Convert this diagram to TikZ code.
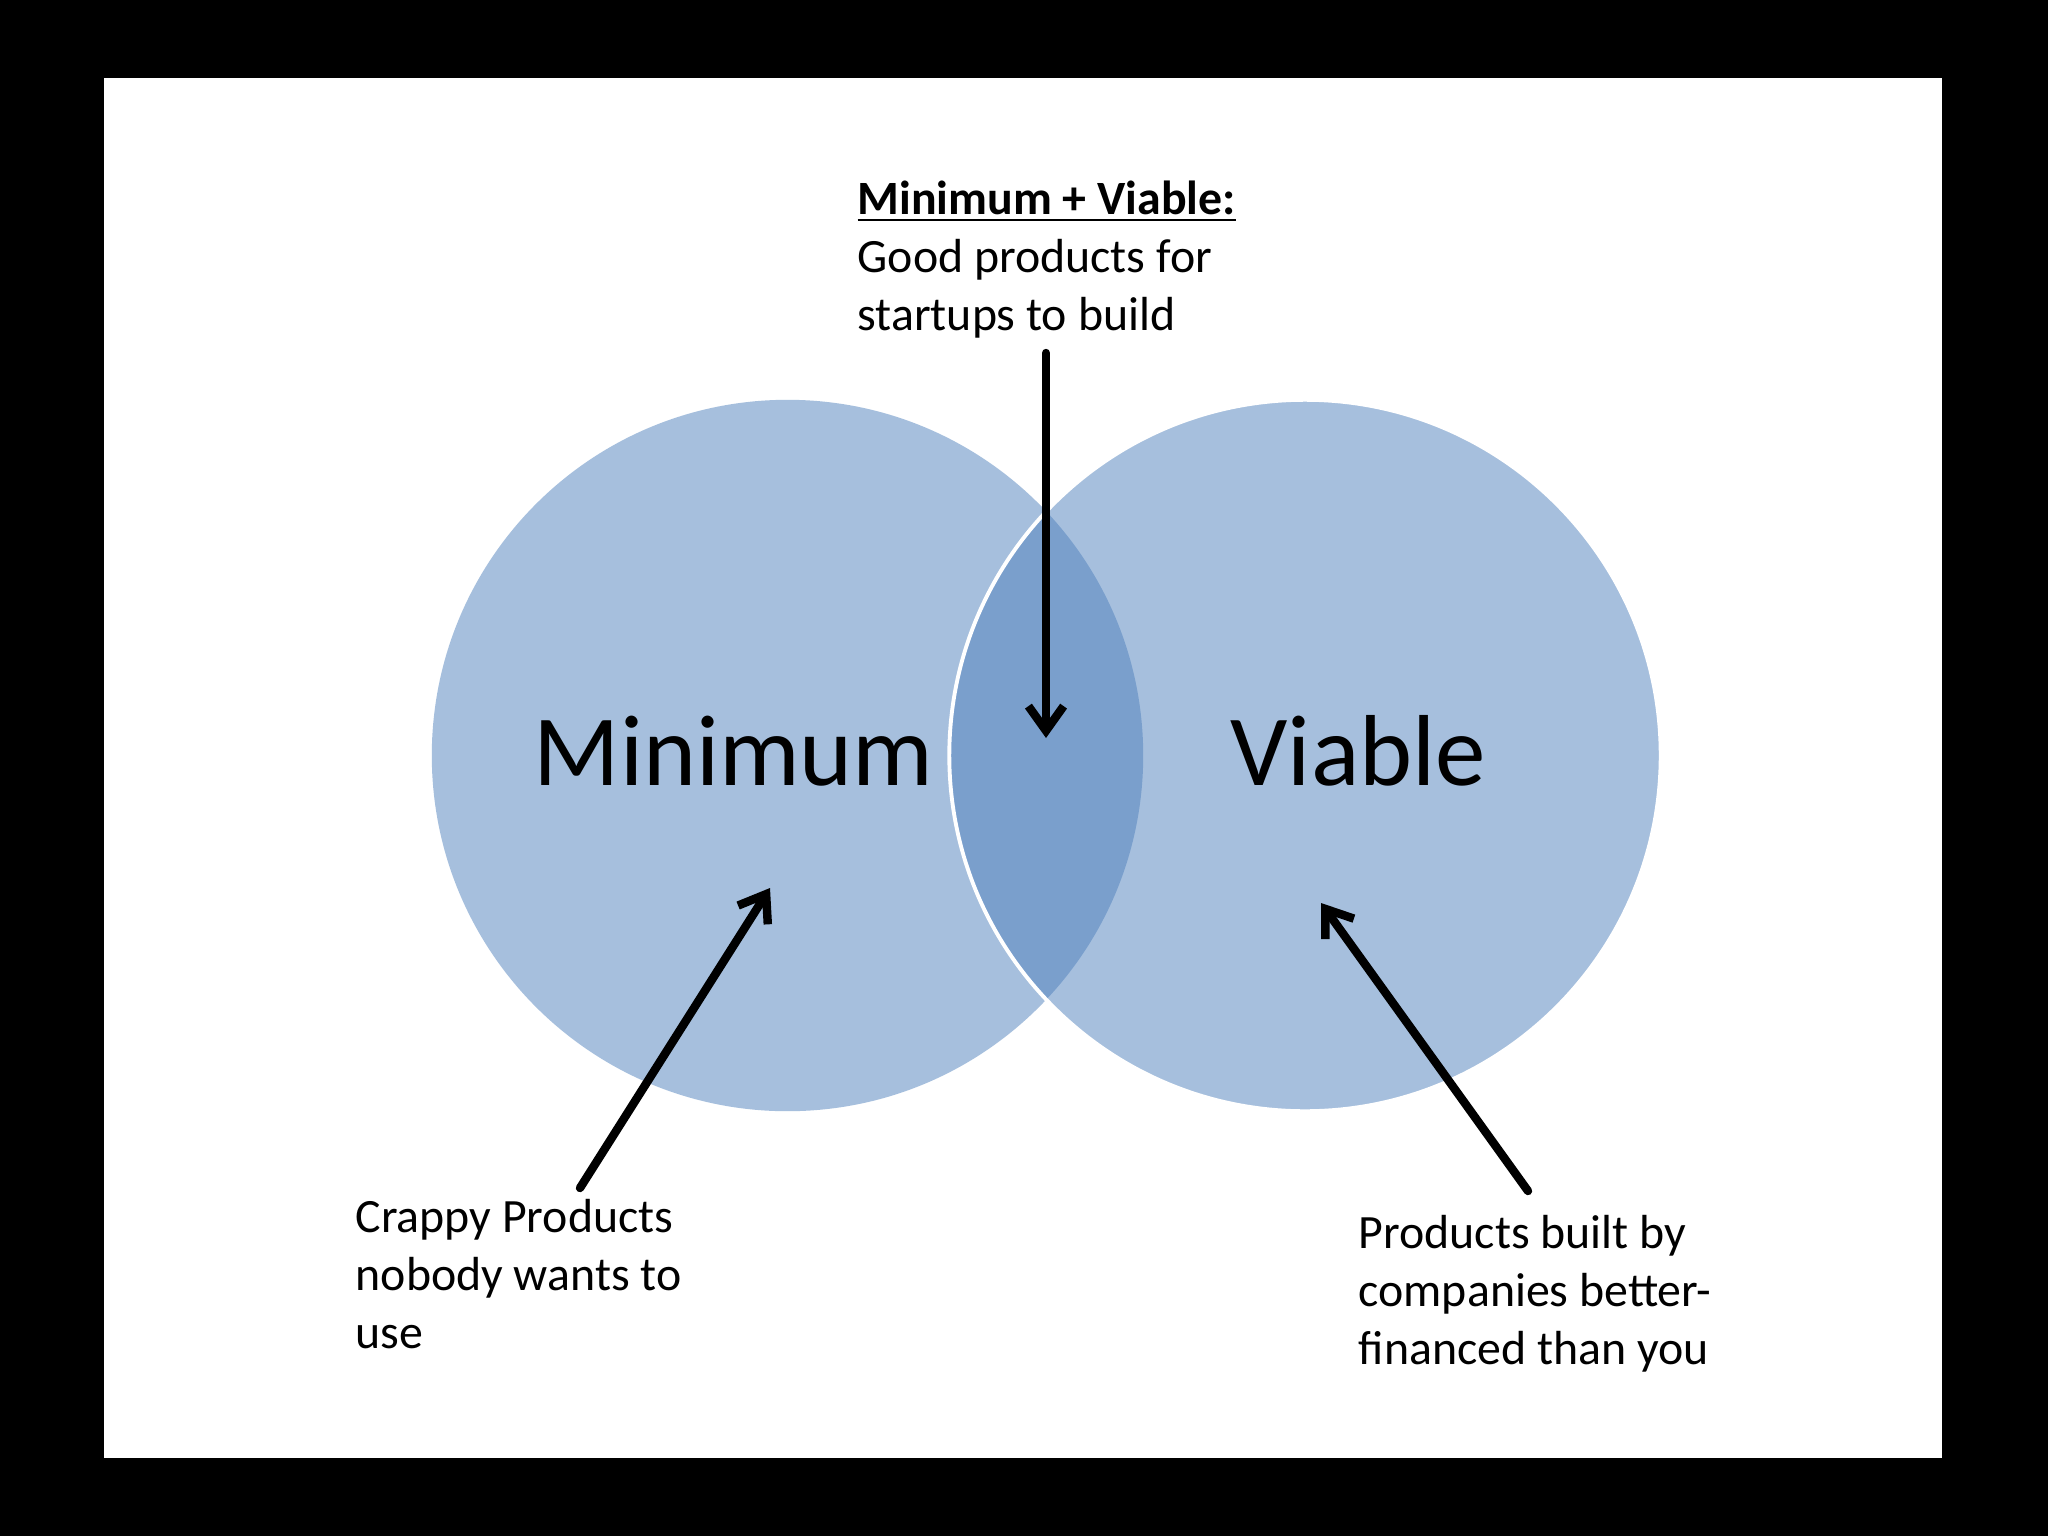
\documentclass[tikz,border=0pt]{standalone}
\usepackage{fontspec}
\setmainfont{Carlito}
\usetikzlibrary{arrows.meta}
\definecolor{vennblue}{RGB}{79,129,189}
\begin{document}
\begin{tikzpicture}[x=0.01cm,y=-0.01cm,
  venn/.style={circle, minimum size=7.11cm, inner sep=0pt, fill=vennblue, fill opacity=0.5},
  bigtxt/.style={font=\fontsize{28.7pt}{34pt}\selectfont, inner sep=0pt, anchor=base west},
  smalltxt/.style={font=\fontsize{13.6pt}{16.4pt}\selectfont, inner sep=0pt, anchor=base west, align=left},
  arr/.style={-{Straight Barb[length=7pt,width=10pt]}, line width=2.4pt, line cap=round}]
\useasboundingbox (0,0) rectangle (2048,1536);
\fill[black] (0,0) rectangle (2048,1536);
\fill[white] (104,78) rectangle (1942,1458);
\node[venn] (cL) at (787.5,755.5) {};
\node[venn, draw=white, draw opacity=1, line width=1.1pt] (cR) at (1305,755.5) {};
\node[bigtxt] (mintxt) at (533,785) {Minimum};
\node[bigtxt] (viatxt) at (1230,785) {Viable};
\node[smalltxt] (toptxt) at (857,330) {\textbf{\underline{Minimum + Viable:}}\\Good products for\\startups to build};
\node[smalltxt] (lefttxt) at (355,1348) {Crappy Products\\nobody wants to\\use};
\node[smalltxt] (righttxt) at (1358,1364) {Products built by\\companies better-\\financed than you};
\coordinate (topS) at (1046,353);
\coordinate (topE) at (1046,738);
\coordinate (leftS) at (580,1188);
\coordinate (leftE) at (770,888);
\coordinate (rightS) at (1528,1191);
\coordinate (rightE) at (1321,903);
\draw[arr] (topS) -- (topE);
\draw[arr] (leftS) -- (leftE);
\draw[arr] (rightS) -- (rightE);
\end{tikzpicture}
\end{document}
